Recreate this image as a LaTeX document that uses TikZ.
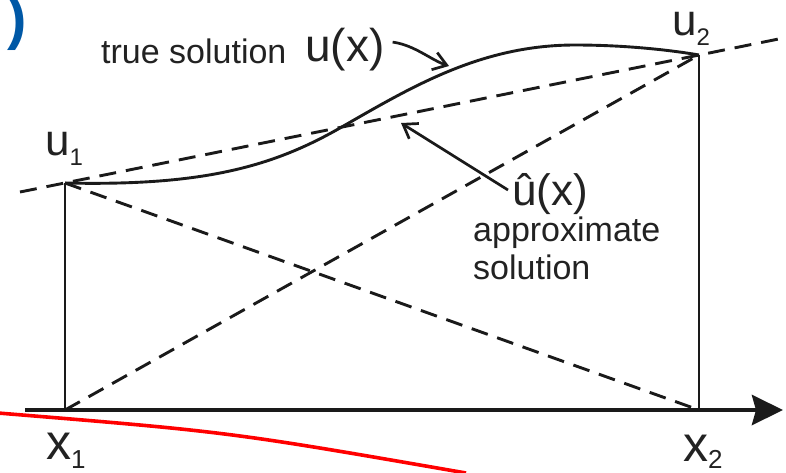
\documentclass[tikz,border=0pt]{standalone}
\usepackage{fontspec}
\setmainfont{Liberation Sans}
\usetikzlibrary{arrows.meta}
\definecolor{ink}{HTML}{1A1A1A}
\definecolor{txt}{HTML}{222222}
\definecolor{eblue}{HTML}{0058A6}
\definecolor{redline}{HTML}{FF0000}
\begin{document}
\begin{tikzpicture}[x=1pt,y=-1pt,
  solidline/.style={draw=ink, line width=2.9pt},
  dashline/.style={draw=ink, line width=2.9pt, dash pattern=on 17pt off 10pt},
  lbl/.style={inner sep=0pt, text=txt, font=\fontsize{34}{38}\selectfont},
  biglbl/.style={inner sep=0pt, text=txt, font=\fontsize{44}{48}\selectfont},
  pointer/.style={draw=ink, line width=2.7pt, -{Straight Barb[length=13pt,width=18pt]}}
]
\useasboundingbox (0,0) rectangle (786,472);
\clip (0,0) rectangle (786,472);
\fill[white] (0,0) rectangle (786,472);

% key points
\coordinate (X1) at (65,410);
\coordinate (X2) at (699,410);
\coordinate (U1) at (65,183);
\coordinate (U2) at (699,55);
\coordinate (axL) at (25,410);
\coordinate (axR) at (783,410);
\coordinate (chL) at (20,192);
\coordinate (chR) at (786,37.5);

% red stroke
\coordinate (rA) at (-2,413);
\coordinate (rB) at (466,473);
\draw[redline, line width=3.6pt] (rA) .. controls (230,432) .. (rB);

% dashed lines
\draw[dashline] (chL) -- (chR);
\draw[dashline] (U1) -- (X2);
\draw[dashline] (X1) -- (U2);

% verticals
\draw[solidline] (U1) -- (X1);
\draw[solidline] (U2) -- (X2);

% axis
\draw[ink, line width=4.6pt, -{Stealth[length=31pt,width=30pt,inset=4pt]}] (axL) -- (axR);

% true solution curve
\draw[solidline] (U1) .. controls (200,186) and (270,168) .. (340,128)
  .. controls (410,88) and (480,45) .. (575,45)
  .. controls (625,45) and (670,50) .. (U2);

% labels
\node[lbl, anchor=base west] (tslbl) at (101,63) {true solution};
\node[inner sep=0pt, text=txt, font=\fontsize{46}{50}\selectfont, anchor=base west] (uxlbl) at (305,61) {u(x)};
\node[biglbl, anchor=base west] (u1lbl) at (45,155) {u\raisebox{-10pt}{\fontsize{24}{24}\selectfont 1}};
\node[biglbl, anchor=base west] (u2lbl) at (672,35) {u\raisebox{-10pt}{\fontsize{24}{24}\selectfont 2}};
\node[inner sep=0pt, text=txt, font=\fontsize{50}{54}\selectfont, anchor=base west] (x1lbl) at (46,459) {x\raisebox{-9pt}{\fontsize{26}{26}\selectfont 1}};
\node[inner sep=0pt, text=txt, font=\fontsize{50}{54}\selectfont, anchor=base west] (x2lbl) at (683,461) {x\raisebox{-7pt}{\fontsize{26}{26}\selectfont 2}};
\node[biglbl, anchor=base west] (uhlbl) at (512,205) {û(x)};
\node[lbl, anchor=base west] (aplbl) at (473,241) {approximate};
\node[lbl, anchor=base west] (sollbl) at (473,279) {solution};
\node[inner sep=0pt, text=eblue, font=\bfseries\fontsize{58}{62}\selectfont, anchor=base east] (elbl) at (27,38) {)};

% pointers
\coordinate (tipT) at (449,66);
\coordinate (tipA) at (401,123);
\draw[pointer] (uxlbl.east) ++(8,-7) .. controls +(22,3) and +(-18,-6) .. (tipT);
\draw[pointer] (508,190) -- (tipA);
\end{tikzpicture}
\end{document}
